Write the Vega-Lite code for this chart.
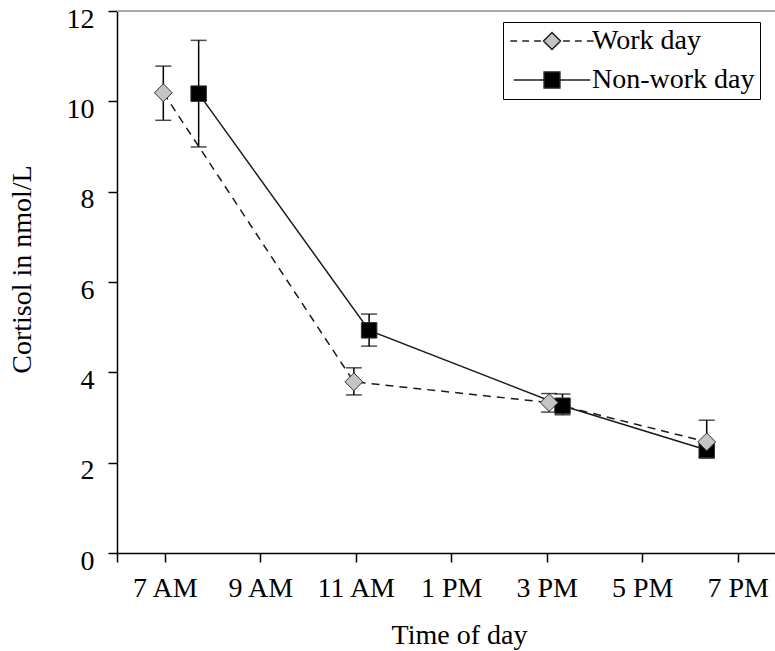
{
  "$schema": "https://vega.github.io/schema/vega-lite/v6.json",
  "width": 658,
  "height": 542,
  "autosize": {"type": "none"},
  "padding": {"left": 117, "top": 11, "right": 0, "bottom": 98},
  "background": "white",
  "config": {
    "font": "Liberation Serif",
    "view": {"stroke": null},
    "axis": {
      "domainColor": "black", "domainWidth": 1.5, "tickColor": "black", "tickWidth": 1.5, "tickSize": 9,
      "labelFontSize": 28, "labelColor": "black", "labelFont": "Liberation Serif",
      "titleFontSize": 28, "titleColor": "black", "titleFontWeight": "normal", "titleFont": "Liberation Serif",
      "grid": false
    },
    "legend": {
      "title": " ", "titleFontSize": 8, "titlePadding": 0,
      "orient": "none", "legendX": 386, "legendY": 11,
      "strokeColor": "black", "padding": 5, "labelLimit": 0,
      "labelFontSize": 28, "labelFont": "Liberation Serif", "labelColor": "black",
      "symbolSize": 289, "symbolOffset": 30, "labelOffset": 26, "rowPadding": 11,
      "symbolStrokeWidth": 1.5, "symbolOpacity": 1
    }
  },
  "data": {
    "values": [
      {"series": "Non-work day", "hour": 7.71, "mean": 10.17, "low": 8.99, "high": 11.35},
      {"series": "Non-work day", "hour": 11.28, "mean": 4.93, "low": 4.58, "high": 5.29},
      {"series": "Non-work day", "hour": 15.33, "mean": 3.26, "low": 3.06, "high": 3.52},
      {"series": "Non-work day", "hour": 18.35, "mean": 2.28, "low": 2.13, "high": 2.45},
      {"series": "Work day", "hour": 6.97, "mean": 10.19, "low": 9.58, "high": 10.78},
      {"series": "Work day", "hour": 10.96, "mean": 3.79, "low": 3.5, "high": 4.1},
      {"series": "Work day", "hour": 15.05, "mean": 3.33, "low": 3.12, "high": 3.53},
      {"series": "Work day", "hour": 18.35, "mean": 2.46, "low": 2.1, "high": 2.94}
    ]
  },
  "encoding": {
    "x": {
      "field": "hour", "type": "quantitative",
      "scale": {"domain": [6, 19.78], "nice": false, "zero": false},
      "axis": {
        "values": [6, 7, 9, 11, 13, 15, 17, 19],
        "labelExpr": "datum.value == 6 ? '' : datum.value < 12 ? datum.value + ' AM' : datum.value == 12 ? '12 PM' : (datum.value - 12) + ' PM'",
        "labelPadding": 12, "labelFlush": false,
        "title": "Time of day", "titleX": 342, "titleY": 90, "titleBaseline": "alphabetic", "titleAlign": "center", "titleAnchor": null
      }
    }
  },
  "layer": [
    {
      "mark": {"type": "rule", "color": "#aaaaaa", "strokeWidth": 2},
      "encoding": {"x": null, "y": {"datum": 12, "type": "quantitative", "scale": {"domain": [0, 12], "nice": false}}}
    },
    {
      "mark": {"type": "rule", "color": "black", "strokeWidth": 1.5},
      "encoding": {
        "y": {
          "field": "low", "type": "quantitative",
          "scale": {"domain": [0, 12], "nice": false},
          "axis": {
            "values": [0, 2, 4, 6, 8, 10, 12], "labelPadding": 14, "labelOffset": 8,
            "title": "Cortisol in nmol/L", "titleX": -87, "titleY": 258, "titleBaseline": "alphabetic", "titleAlign": "center", "titleAngle": -90
          }
        },
        "y2": {"field": "high"}
      }
    },
    {
      "mark": {"type": "tick", "orient": "horizontal", "size": 16, "thickness": 1.5, "color": "black"},
      "encoding": {"y": {"field": "low", "type": "quantitative"}}
    },
    {
      "mark": {"type": "tick", "orient": "horizontal", "size": 16, "thickness": 1.5, "color": "black"},
      "encoding": {"y": {"field": "high", "type": "quantitative"}}
    },
    {
      "transform": [{"filter": "datum.series === 'Non-work day'"}],
      "mark": {"type": "line", "color": "#1a1a1a", "strokeWidth": 1.5},
      "encoding": {"y": {"field": "mean", "type": "quantitative"}}
    },
    {
      "transform": [{"filter": "datum.series === 'Work day'"}],
      "mark": {"type": "line", "color": "#1a1a1a", "strokeWidth": 1.5, "strokeDash": [8, 6]},
      "encoding": {"y": {"field": "mean", "type": "quantitative"}}
    },
    {
      "mark": {"type": "point", "filled": true, "stroke": "#303030", "strokeWidth": 1, "opacity": 1, "size": 240},
      "encoding": {
        "y": {"field": "mean", "type": "quantitative"},
        "shape": {
          "condition": {"test": "datum.series === 'Work day'", "value": "M0,-1.15L1.15,0L0,1.15L-1.15,0Z"},
          "value": "square"
        },
        "fill": {
          "condition": {"test": "datum.series === 'Work day'", "value": "#c4c4c4"},
          "value": "#000000"
        }
      }
    },
    {
      "mark": {"type": "point", "filled": true, "stroke": "#202020", "strokeWidth": 1.5, "opacity": 0, "size": 289},
      "encoding": {
        "y": {"field": "mean", "type": "quantitative"},
        "shape": {
          "field": "series", "type": "nominal",
          "scale": {
            "domain": ["Work day", "Non-work day"],
            "range": [
              "M-4.9,0H-4.1M-3.5,0H-2.7M-2.1,0H-1.3M0,-1L1,0L0,1L-1,0ZM1.3,0H2.1M2.7,0H3.5M4.1,0H4.9",
              "M-4.5,0H-0.93M-0.93,-0.93H0.93V0.93H-0.93ZM0.93,0H4.5"
            ]
          }
        },
        "fill": {
          "field": "series", "type": "nominal",
          "scale": {"domain": ["Work day", "Non-work day"], "range": ["#c4c4c4", "#000000"]}
        }
      }
    }
  ]
}
